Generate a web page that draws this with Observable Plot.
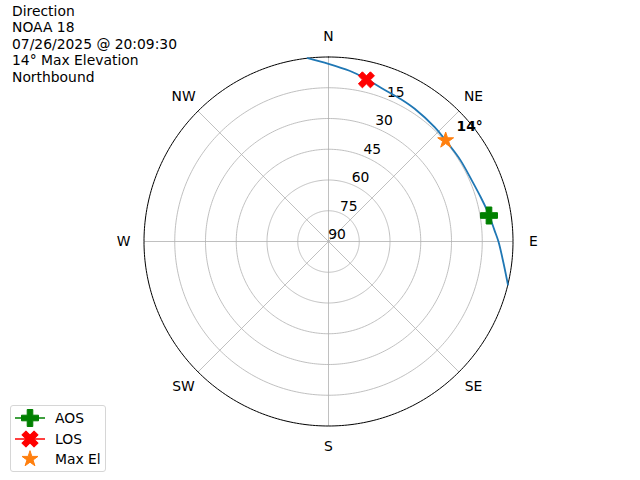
<!DOCTYPE html>
<html>
<head>
<meta charset="utf-8">
<script src="https://cdn.jsdelivr.net/npm/d3@7"></script>
<script src="https://cdn.jsdelivr.net/npm/@observablehq/plot@0.6"></script>
<style>
  body { margin: 0; background: #fff; }
  #wrap { position: relative; width: 640px; height: 480px; font-family: "DejaVu Sans", sans-serif; }
  #title { position: absolute; left: 12px; top: 3px; font-size: 13.89px; line-height: 16.4px; color: #000; white-space: pre; }
  #legend { position: absolute; left: 10px; top: 405px; width: 94px; height: 65px; border: 1px solid #d6d6d6; border-radius: 3px; background: rgba(255,255,255,0.8); font-size: 13.89px; }
  .row { position: absolute; left: 0; height: 20px; display: flex; align-items: center; }
  .row svg { margin-left: 3px; }
  .row span { margin-left: 9px; }
</style>
</head>
<body>
<div id="wrap">
  <div id="chart"></div>
  <div id="title"></div>
  <div id="legend"></div>
</div>
<script>
// ---- data ----
const titleLines = ["Direction", "NOAA 18", "07/26/2025 @ 20:09:30", "14° Max Elevation", "Northbound"];

const trackAz = [-6.5, 0, 7, 13, 19, 27, 33, 43, 49, 58, 67, 74, 80, 86, 90, 97, 103.5];
const trackEl = [0, 3.3, 6.1, 8.6, 10.8, 12.1, 12.8, 13.9, 14.5, 14.4, 14.0, 12.6, 10.8, 8.9, 7.1, 4.0, 0];

const eventNames = ["AOS", "LOS", "Max El"];
const eventAz = [80.8, 13.2, 49.2];
const eventEl = [10.7, 9.0, 14.5];
const eventColors = ["green", "red", "#ff7f0e"];

const ringElevations = [15, 30, 45, 60, 75];
const ringLabels = ["15", "30", "45", "60", "75", "90"];
const ringLabelEl = [15, 30, 45, 60, 75, 90];

const compassLabels = ["N", "NE", "E", "SE", "S", "SW", "W", "NW"];
const compassAz = [0, 45, 90, 135, 180, 225, 270, 315];

// ---- helpers ----
const rad = Math.PI / 180;
const px = (az, el) => (90 - el) * Math.sin(az * rad);
const py = (az, el) => (90 - el) * Math.cos(az * rad);

const track = trackAz.map((a, i) => ({x: px(a, trackEl[i]), y: py(a, trackEl[i])}));
const events = eventNames.map((n, i) => ({name: n, az: eventAz[i], el: eventEl[i], x: px(eventAz[i], eventEl[i]), y: py(eventAz[i], eventEl[i]), color: eventColors[i]}));

const circlePts = (el) => d3.range(0, 361, 1).map(a => ({ring: el, x: px(a, el), y: py(a, el)}));
const rings = ringElevations.flatMap(circlePts);
const outer = circlePts(0);
const spokes = compassAz.map(a => ({x2: px(a, 0), y2: py(a, 0)}));
const compass = compassLabels.map((l, i) => ({label: l, x: 100 * Math.sin(compassAz[i] * rad), y: 100 * Math.cos(compassAz[i] * rad)}));
const rLabels = ringLabels.map((l, i) => ({label: l, x: px(22.5, ringLabelEl[i]), y: py(22.5, ringLabelEl[i])}));

// filled plus / X symbols
const plusFilled = {
  draw(ctx, size) {
    const e = Math.sqrt(size / Math.PI), w = e / 3;
    ctx.moveTo(-w, -e); ctx.lineTo(w, -e); ctx.lineTo(w, -w); ctx.lineTo(e, -w); ctx.lineTo(e, w);
    ctx.lineTo(w, w); ctx.lineTo(w, e); ctx.lineTo(-w, e); ctx.lineTo(-w, w); ctx.lineTo(-e, w);
    ctx.lineTo(-e, -w); ctx.lineTo(-w, -w); ctx.closePath();
  }
};
const xFilled = {
  draw(ctx, size) {
    const e = Math.sqrt(size / Math.PI), w = e / 3;
    const pts = [[-w, -e], [w, -e], [w, -w], [e, -w], [e, w], [w, w], [w, e], [-w, e], [-w, w], [-e, w], [-e, -w], [-w, -w]];
    const c = Math.SQRT1_2;
    pts.forEach(([a, b], i) => {
      const X = (a - b) * c, Y = (a + b) * c;
      if (i === 0) ctx.moveTo(X, Y); else ctx.lineTo(X, Y);
    });
    ctx.closePath();
  }
};

const font = {fontFamily: "DejaVu Sans", fontSize: 13.89, fill: "black"};
const maxEv = events[2];

const chart = Plot.plot({
  width: 640,
  height: 480,
  marginLeft: 143.5,
  marginRight: 127.5,
  marginTop: 56.5,
  marginBottom: 54.5,
  x: {domain: [-90, 90], axis: null},
  y: {domain: [-90, 90], axis: null},
  style: {background: "white", overflow: "visible"},
  marks: [
    Plot.line(rings, {x: "x", y: "y", z: "ring", stroke: "#b0b0b0", strokeWidth: 0.8}),
    Plot.link(spokes, {x1: 0, y1: 0, x2: "x2", y2: "y2", stroke: "#b0b0b0", strokeWidth: 0.8}),
    Plot.text(rLabels, {x: "x", y: "y", text: "label", dx: 8.5, dy: -7, ...font}),
    Plot.line(outer, {x: "x", y: "y", stroke: "black", strokeWidth: 1}),
    Plot.text(compass, {x: "x", y: "y", text: "label", ...font}),
    Plot.line(track, {x: "x", y: "y", stroke: "#1f77b4", strokeWidth: 1.8, curve: "catmull-rom"}),
    Plot.dot([events[0]], {x: "x", y: "y", symbol: plusFilled, r: 8.5, fill: "green", stroke: "green", strokeWidth: 1, strokeLinejoin: "round"}),
    Plot.dot([events[1]], {x: "x", y: "y", symbol: xFilled, r: 8.5, fill: "red", stroke: "red", strokeWidth: 1, strokeLinejoin: "round"}),
    Plot.dot([events[2]], {x: "x", y: "y", symbol: "star", r: 5, fill: "#ff7f0e", stroke: "#ff7f0e", strokeWidth: 1}),
    Plot.text([maxEv], {x: "x", y: "y", text: d => `${Math.floor(d.el)}°`, dx: 24, dy: -14, ...font, fontWeight: "bold"})
  ]
});
document.getElementById("chart").appendChild(chart);

document.getElementById("title").textContent = titleLines.join("\n");

// legend
const legend = document.getElementById("legend");
const handles = [
  `<svg width="32" height="20"><line x1="1" y1="10" x2="31" y2="10" stroke="green" stroke-width="1.5"/><path transform="translate(16,10)" d="M-2.8,-8.5H2.8V-2.8H8.5V2.8H2.8V8.5H-2.8V2.8H-8.5V-2.8H-2.8Z" fill="green" stroke="green" stroke-linejoin="round"/></svg>`,
  `<svg width="32" height="20"><line x1="1" y1="10" x2="31" y2="10" stroke="red" stroke-width="1.5"/><path transform="translate(16,10) rotate(45)" d="M-2.8,-8.5H2.8V-2.8H8.5V2.8H2.8V8.5H-2.8V2.8H-8.5V-2.8H-2.8Z" fill="red" stroke="red" stroke-linejoin="round"/></svg>`,
  `<svg width="32" height="20"><path transform="translate(16,10)" d="${d3.symbol(d3.symbolStar, Math.PI * 5 * 5)()}" fill="#ff7f0e" stroke="#ff7f0e"/></svg>`
];
eventNames.forEach((n, i) => {
  const row = document.createElement("div");
  row.className = "row";
  row.style.top = (2 + i * 20.5) + "px";
  row.innerHTML = handles[i] + `<span>${n}</span>`;
  legend.appendChild(row);
});
</script>
</body>
</html>
